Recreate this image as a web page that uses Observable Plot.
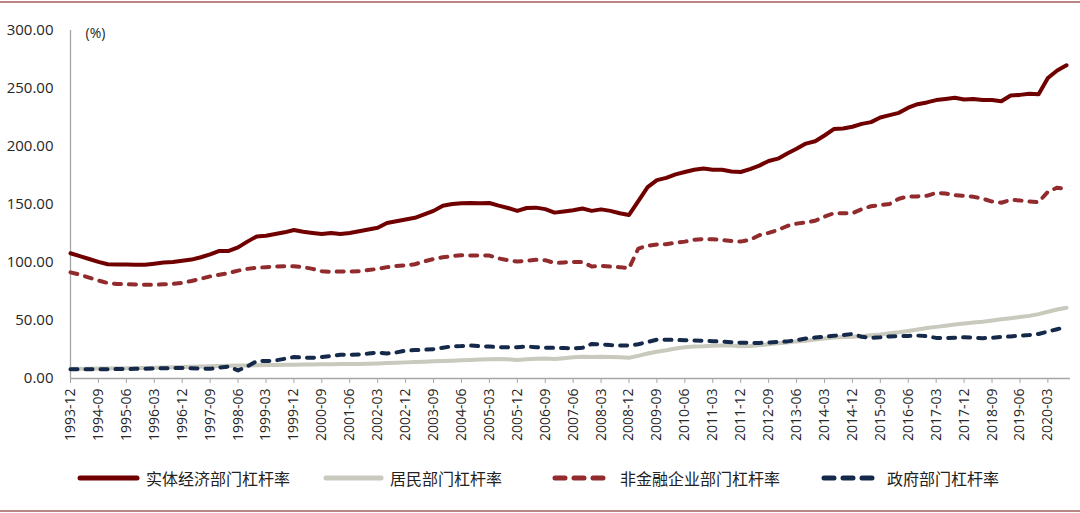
<!DOCTYPE html>
<html>
<head>
<meta charset="utf-8">
<script src="https://cdn.jsdelivr.net/npm/d3@7"></script>
<script src="https://cdn.jsdelivr.net/npm/@observablehq/plot@0.6"></script>
<style>
  html, body { margin: 0; padding: 0; background: #fff; }
  #page { position: relative; width: 1080px; height: 513px; overflow: hidden; background: #fff; }
  .border { position: absolute; left: 0; width: 1080px; height: 2px; background: #b98585; }
  #chart { position: absolute; left: 0; top: 0; }
  .leg { position: absolute; top: 466px; height: 24px; display: flex; align-items: center;
         font-family: "Noto Sans CJK SC", sans-serif; font-size: 16px; color: #222; white-space: nowrap; }
  .leg svg { display: block; }
</style>
</head>
<body>
<div id="page">
  <div class="border" style="top:1px"></div>
  <div id="chart"></div>
  <div class="border" style="top:510px"></div>
</div>
<script>
const quarters = [
  "1993-12",
  "1994-03","1994-06","1994-09","1994-12",
  "1995-03","1995-06","1995-09","1995-12",
  "1996-03","1996-06","1996-09","1996-12",
  "1997-03","1997-06","1997-09","1997-12",
  "1998-03","1998-06","1998-09","1998-12",
  "1999-03","1999-06","1999-09","1999-12",
  "2000-03","2000-06","2000-09","2000-12",
  "2001-03","2001-06","2001-09","2001-12",
  "2002-03","2002-06","2002-09","2002-12",
  "2003-03","2003-06","2003-09","2003-12",
  "2004-03","2004-06","2004-09","2004-12",
  "2005-03","2005-06","2005-09","2005-12",
  "2006-03","2006-06","2006-09","2006-12",
  "2007-03","2007-06","2007-09","2007-12",
  "2008-03","2008-06","2008-09","2008-12",
  "2009-03","2009-06","2009-09","2009-12",
  "2010-03","2010-06","2010-09","2010-12",
  "2011-03","2011-06","2011-09","2011-12",
  "2012-03","2012-06","2012-09","2012-12",
  "2013-03","2013-06","2013-09","2013-12",
  "2014-03","2014-06","2014-09","2014-12",
  "2015-03","2015-06","2015-09","2015-12",
  "2016-03","2016-06","2016-09","2016-12",
  "2017-03","2017-06","2017-09","2017-12",
  "2018-03","2018-06","2018-09","2018-12",
  "2019-03","2019-06","2019-09","2019-12",
  "2020-03","2020-06","2020-09"
];

const tickLabels = [
  "1993-12","1994-09","1995-06","1996-03","1996-12","1997-09","1998-06","1999-03","1999-12",
  "2000-09","2001-06","2002-03","2002-12","2003-09","2004-06","2005-03","2005-12","2006-09",
  "2007-06","2008-03","2008-12","2009-09","2010-06","2011-03","2011-12","2012-09","2013-06",
  "2014-03","2014-12","2015-09","2016-06","2017-03","2017-12","2018-09","2019-06","2020-03"
];

const yTicks = [0, 50, 100, 150, 200, 250, 300];

// 实体经济部门杠杆率
const realEconomy = [
  108,105.5,103,100.5,98.5,98.3,98.2,98,98,99,
  100,100.5,101.5,102.5,104.5,107,110,110,113,118,
  122.5,123,124.5,126,128,126.5,125.5,124.5,125.5,124.5,
  125.5,127,128.5,130,134,135.5,137,138.5,141.5,144.5,
  149,150.5,151,151.2,151,151.3,149,147,144.5,147,
  147.3,146,143,144,145,146.5,144.5,145.8,144.5,142.5,
  141,153,165,171,173,176,178,180,181,180,
  180,178.5,178,180.5,183.5,187.5,189.5,194,198,202.5,
  204.5,209.5,215,215.5,217,219.5,221,225,227,229,
  233.5,236.5,238,240,241,242,240.5,241,240,240,
  239,244,244.5,245.5,245,259,265.5,270
];

// 居民部门杠杆率
const household = [
  8.3,8.4,8.5,8.6,8.7,8.8,8.9,9.0,9.1,9.3,
  9.5,9.7,9.9,10.1,10.3,10.5,10.7,10.9,11.1,11.3,
  11.5,11.6,11.7,11.8,11.9,12.0,12.1,12.2,12.3,12.4,
  12.5,12.6,12.8,13.0,13.3,13.6,13.9,14.2,14.5,14.8,
  15.1,15.4,15.7,16.0,16.3,16.6,16.8,16.5,16.0,16.5,
  17,17.2,16.8,17.5,18.3,18.8,18.6,18.8,18.5,18.3,
  17.9,19.5,21.5,23.0,24.3,25.8,27.0,27.5,27.8,28.3,
  28.5,28.5,27.8,28.0,28.7,29.5,30.3,31.0,32.0,32.5,
  33.5,34.5,35.3,35.8,36.0,36.5,37.2,38.0,39.0,39.8,
  41.0,42.3,43.5,44.5,45.5,46.5,47.5,48.3,49.0,50.0,
  51.0,52.0,53.0,54.0,55.5,57.5,59.5,61.0
];

// 非金融企业部门杠杆率
const nonFinCorp = [
  91.5,89.5,87,84.5,82.3,81.5,81.2,81,80.8,80.8,
  81.2,81.5,82.5,84,86,88,89.5,91,93,94.5,
  95.5,96,96.5,96.8,96.8,96,94.5,92.5,92,92.3,
  92.3,92.5,93.5,94.5,96,97,97.5,98.5,101,103,
  104.5,105.5,106.3,106,106,106,103.5,102,100.8,101.5,
  102.3,102,99.5,100,100.5,100.3,96.5,97,96.5,96,
  95,112,114.5,115.5,115.8,117,118,119.5,120.3,120,
  119.3,118.5,118,119.5,123.5,125.5,128,131.5,133.5,134.5,
  136,139.5,142.5,142.5,142.5,146,148.5,149.5,150.5,155,
  157,157,157.5,160,159.5,158,157.5,156.7,155,152.5,
  151.5,154,153.5,152.5,152,161,164.5,163.5
];

// 政府部门杠杆率
const government = [
  8,8,8,8,8,8.1,8.2,8.3,8.5,8.7,
  8.9,9.0,9.0,8.8,8.5,8.3,9.5,10.3,7,10.5,
  15,15,15.5,17,18.5,18,17.8,18.5,19.5,20.5,
  20.5,20.7,21.5,22.5,21.5,22.5,24,24.5,24.8,25.3,
  26.5,27.8,28,28.4,27.8,27.5,27,26.9,27,27.5,
  27,26.5,26.4,26.4,25.8,26.5,29.8,29.5,28.8,28.4,
  28.4,29.5,31.5,33.5,33.5,33.2,33,32.8,32.5,32.2,
  31.8,31.3,30.8,30.7,30.7,31,31.5,32,33,34.5,
  35.3,36,36.8,37.5,38.4,36,35,35.5,36.3,36.5,
  36.7,37,36.5,35,34.8,35.2,35.5,35.2,34.8,35,
  35.8,36.3,36.8,37.5,38.4,40.5,42.5,44.5
];

const seriesNames = ["实体经济部门杠杆率", "居民部门杠杆率", "非金融企业部门杠杆率", "政府部门杠杆率"];
const seriesColors = ["#700000", "#c9c9bd", "#912b2d", "#15294a"];
const seriesDashed = [false, false, true, true];
const seriesValues = [realEconomy, household, nonFinCorp, government];

const rows = seriesValues.map(vals => quarters.map((q, i) => ({q, v: vals[i]})));

const lineMarks = rows.map((data, k) => Plot.line(data, {
  x: "q", y: "v",
  stroke: seriesColors[k],
  strokeWidth: 4,
  strokeLinecap: "round",
  strokeLinejoin: "round",
  strokeDasharray: seriesDashed[k] ? "7,8" : null
}));

const chart = Plot.plot({
  width: 1080,
  height: 450,
  marginLeft: 70,
  marginRight: 10,
  marginTop: 30,
  marginBottom: 72,
  style: {fontFamily: "'Open Sans', sans-serif", color: "#262626", background: "transparent"},
  x: {type: "point", domain: quarters, range: [70, 1066], padding: 0},
  y: {domain: [0, 300], range: [378, 30]},
  marks: [
    Plot.ruleX([quarters[0]], {y1: 0, y2: 300, stroke: "#a6a6a6", strokeWidth: 1.3}),
    Plot.ruleY([0], {stroke: "#a6a6a6", strokeWidth: 1.3}),
    Plot.axisY({ticks: yTicks, tickSize: 0, tickPadding: 17, tickFormat: d => d.toFixed(2), fontSize: 15, label: null}),
    Plot.axisX({ticks: tickLabels, tickRotate: -90, tickSize: 5, tickPadding: 5, fontSize: 14, label: null, stroke: "#a6a6a6"}),
    Plot.text(["(%)"], {frameAnchor: "top-left", dx: 15, dy: 3, textAnchor: "start", lineAnchor: "middle", fontSize: 14, fill: "#262626"}),
    ...lineMarks
  ]
});
document.getElementById("chart").appendChild(chart);

// legend
const legendPos = [
  {lineX: 80, lineW: 57, textGap: 6},
  {lineX: 326, lineW: 55, textGap: 6},
  {lineX: 555, lineW: 50, textGap: 12},
  {lineX: 824, lineW: 48, textGap: 12}
];
const page = document.getElementById("page");
seriesNames.forEach((name, k) => {
  const p = legendPos[k];
  const item = document.createElement("div");
  item.className = "leg";
  item.style.left = (p.lineX - 3) + "px";
  const ns = "http://www.w3.org/2000/svg";
  const svg = document.createElementNS(ns, "svg");
  svg.setAttribute("width", p.lineW + 6);
  svg.setAttribute("height", 12);
  const ln = document.createElementNS(ns, "line");
  ln.setAttribute("x1", 3); ln.setAttribute("x2", p.lineW + 3);
  ln.setAttribute("y1", 6); ln.setAttribute("y2", 6);
  ln.setAttribute("stroke", seriesColors[k]);
  ln.setAttribute("stroke-width", 5);
  ln.setAttribute("stroke-linecap", "round");
  if (seriesDashed[k]) ln.setAttribute("stroke-dasharray", "10,9");
  svg.appendChild(ln);
  item.appendChild(svg);
  const t = document.createElement("span");
  t.textContent = name;
  t.style.marginLeft = p.textGap + "px";
  item.appendChild(t);
  page.appendChild(item);
});
</script>
</body>
</html>
